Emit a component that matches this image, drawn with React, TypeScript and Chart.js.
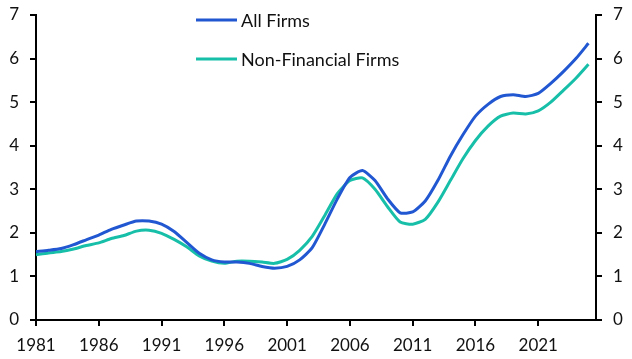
import React, { useEffect, useRef } from "react";
import { Chart, registerables } from "chart.js";

Chart.register(...registerables);

const years: number[] = [];
for (let y = 1981; y <= 2025; y++) years.push(y);

const allFirms = [
  1.57, 1.6, 1.64, 1.73, 1.84, 1.95, 2.08, 2.18, 2.27, 2.27,
  2.2, 2.03, 1.78, 1.53, 1.38, 1.33, 1.33, 1.3, 1.23, 1.19,
  1.23, 1.38, 1.66, 2.2, 2.78, 3.27, 3.43, 3.2, 2.78, 2.46,
  2.48, 2.73, 3.2, 3.76, 4.25, 4.68, 4.95, 5.13, 5.17, 5.13,
  5.2, 5.43, 5.7, 6.0, 6.35,
];

const nonFinancial = [
  1.5, 1.54, 1.57, 1.63, 1.71, 1.77, 1.87, 1.94, 2.04, 2.06,
  1.99, 1.85, 1.68, 1.47, 1.35, 1.3, 1.35, 1.35, 1.33, 1.3,
  1.39, 1.6, 1.92, 2.4, 2.9, 3.2, 3.26, 3.0, 2.6, 2.25,
  2.2, 2.31, 2.7, 3.2, 3.7, 4.12, 4.45, 4.68, 4.75, 4.73,
  4.8, 5.0, 5.27, 5.55, 5.87,
];

const xTickLabels = [1981, 1986, 1991, 1996, 2001, 2006, 2011, 2016, 2021];
const yTicks = [0, 1, 2, 3, 4, 5, 6, 7];

const seriesNames = ["All Firms", "Non-Financial Firms"];
const BLUE = "#2257d2";
const TEAL = "#17bfa9";
const FONT = "Lato, 'Open Sans', sans-serif";

export default function App() {
  const ref = useRef<HTMLCanvasElement | null>(null);

  useEffect(() => {
    document.body.style.margin = "0";
    const canvas = ref.current;
    if (!canvas) return;

    const legendPlugin = {
      id: "customLegend",
      afterDraw(chart: any) {
        const ctx = chart.ctx;
        const items = [
          { label: seriesNames[0], color: BLUE, y: 20 },
          { label: seriesNames[1], color: TEAL, y: 59 },
        ];
        ctx.save();
        ctx.font = `18px ${FONT}`;
        ctx.textBaseline = "middle";
        items.forEach((it) => {
          ctx.strokeStyle = it.color;
          ctx.lineWidth = 3;
          ctx.beginPath();
          ctx.moveTo(196, it.y);
          ctx.lineTo(237, it.y);
          ctx.stroke();
          ctx.fillStyle = "#111";
          ctx.fillText(it.label, 241, it.y + 1);
        });
        ctx.restore();
      },
    };

    const yAxis = (position: "left" | "right") => ({
      type: "linear" as const,
      position,
      min: 0,
      max: 7,
      afterBuildTicks(axis: any) {
        axis.ticks = yTicks.map((v) => ({ value: v }));
      },
      afterFit(axis: any) {
        axis.width = 36;
        axis.paddingTop = 0;
        axis.paddingBottom = 0;
      },
      grid: {
        display: true,
        drawOnChartArea: false,
        drawTicks: true,
        tickLength: 6,
        color: "#000",
        lineWidth: 2,
      },
      border: { display: true, color: "#000", width: 2 },
      ticks: {
        color: "#111",
        font: { family: FONT, size: 17 },
        padding: 11,
        callback: (v: any) => String(v),
      },
    });

    const chart = new Chart(canvas, {
      type: "line",
      data: {
        datasets: [
          {
            label: seriesNames[0],
            data: years.map((x, i) => ({ x, y: allFirms[i] })),
            borderColor: BLUE,
            borderWidth: 3,
            pointRadius: 0,
            tension: 0.2,
            fill: false,
          },
          {
            label: seriesNames[1],
            data: years.map((x, i) => ({ x, y: nonFinancial[i] })),
            borderColor: TEAL,
            borderWidth: 3,
            pointRadius: 0,
            tension: 0.2,
            fill: false,
          },
        ],
      },
      options: {
        animation: false,
        responsive: false,
        maintainAspectRatio: false,
        layout: { padding: { top: 15, left: 0, right: 0, bottom: 0 } },
        plugins: {
          legend: { display: false },
          tooltip: { enabled: false },
        },
        scales: {
          x: {
            type: "linear",
            min: 1981,
            max: 2025.6,
            afterBuildTicks(axis: any) {
              axis.ticks = xTickLabels.map((v) => ({ value: v }));
            },
            afterFit(axis: any) {
              axis.height = 39;
              axis.paddingLeft = 0;
              axis.paddingRight = 0;
            },
            grid: {
              display: true,
              drawOnChartArea: false,
              drawTicks: true,
              tickLength: 6,
              color: "#000",
              lineWidth: 2,
            },
            border: { display: true, color: "#000", width: 2 },
            ticks: {
              color: "#111",
              font: { family: FONT, size: 17 },
              padding: 9,
              maxRotation: 0,
              autoSkip: false,
              callback: (v: any) => String(v),
            },
          },
          y: yAxis("left"),
          y2: yAxis("right"),
        },
      },
      plugins: [legendPlugin],
    });

    return () => chart.destroy();
  }, []);

  return (
    <div style={{ position: "absolute", left: 0, top: 0, width: 632, height: 359 }}>
      <canvas ref={ref} width={632} height={359} style={{ width: 632, height: 359 }} />
    </div>
  );
}
